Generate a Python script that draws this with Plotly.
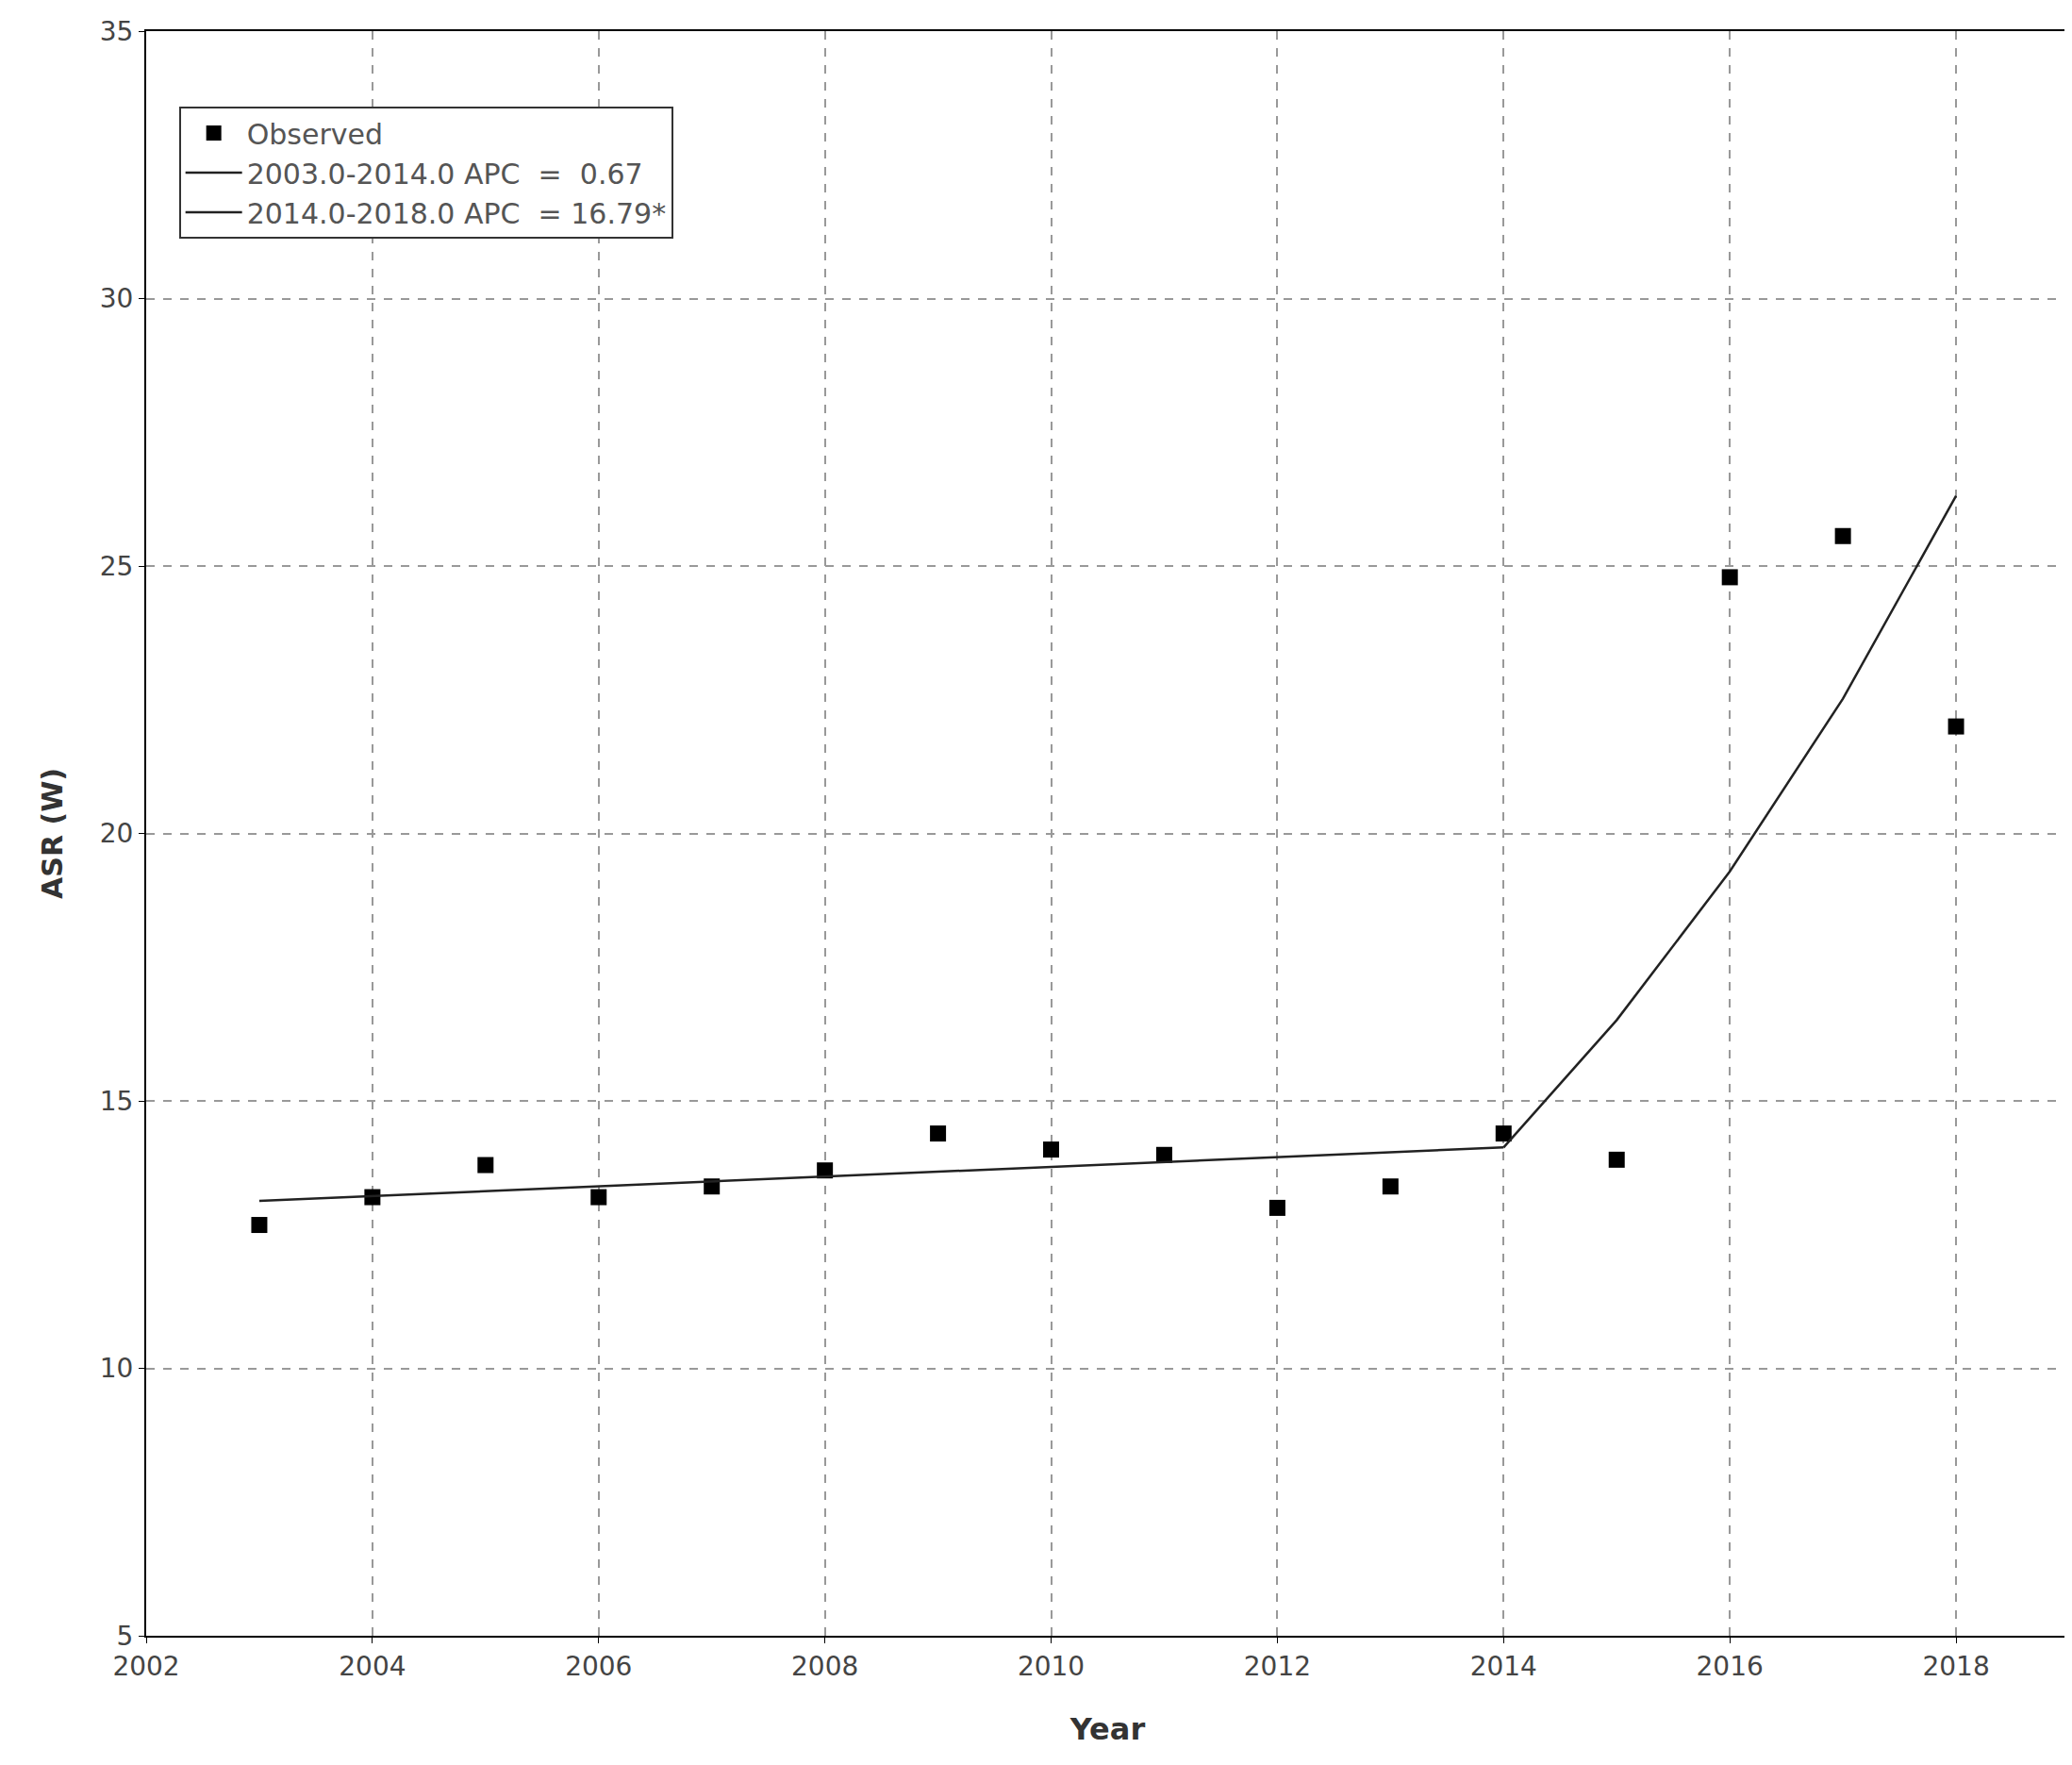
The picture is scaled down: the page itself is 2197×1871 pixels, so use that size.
import plotly.graph_objects as go

years = list(range(2003, 2019))
observed = [12.68, 13.2, 13.8, 13.2, 13.4, 13.7, 14.39, 14.09, 13.99, 13.0, 13.4, 14.39, 13.9, 24.79, 25.56, 22.0]

seg1_years = list(range(2003, 2015))
seg1_fit = [13.13, 13.22, 13.31, 13.40, 13.49, 13.58, 13.67, 13.76, 13.85, 13.95, 14.04, 14.13]
seg2_years = [2014, 2015, 2016, 2017, 2018]
seg2_fit = [14.13, 16.51, 19.29, 22.52, 26.31]

font = "DejaVu Sans"

fig = go.Figure()
fig.add_trace(go.Scatter(x=years, y=observed, mode="markers", name="Observed",
                         marker=dict(symbol="square", size=17, color="black")))
fig.add_trace(go.Scatter(x=seg1_years, y=seg1_fit, mode="lines", name="2003.0-2014.0 APC  =  0.67",
                         line=dict(color="#222", width=2.5)))
fig.add_trace(go.Scatter(x=seg2_years, y=seg2_fit, mode="lines", name="2014.0-2018.0 APC  = 16.79*",
                         line=dict(color="#222", width=2.5)))

axis_common = dict(showgrid=True, gridcolor="#999", griddash="dash", gridwidth=1.5,
                   showline=True, linecolor="black", linewidth=2, mirror=True,
                   zeroline=False, ticks="outside", ticklen=6, tickcolor="black",
                   tickfont=dict(size=28, color="#444", family=font))

fig.update_xaxes(range=[2002, 2019], dtick=2, tick0=2002,
                 title=dict(text="<b>Year</b>", font=dict(size=32, color="#333", family=font), standoff=40),
                 **axis_common)
fig.update_yaxes(range=[5, 35], dtick=5,
                 title=dict(text="<b>ASR (W)</b>", font=dict(size=30, color="#333", family=font), standoff=30),
                 **axis_common)

fig.update_layout(
    width=2197, height=1871,
    paper_bgcolor="white", plot_bgcolor="white",
    margin=dict(l=147, r=9, t=25, b=145),
    legend=dict(x=0.017, y=0.953, xanchor="left", yanchor="top",
                bordercolor="#333", borderwidth=2, bgcolor="white", itemwidth=60,
                font=dict(size=30, color="#555", family=font), tracegroupgap=0),
)

fig.write_html("out.html")
